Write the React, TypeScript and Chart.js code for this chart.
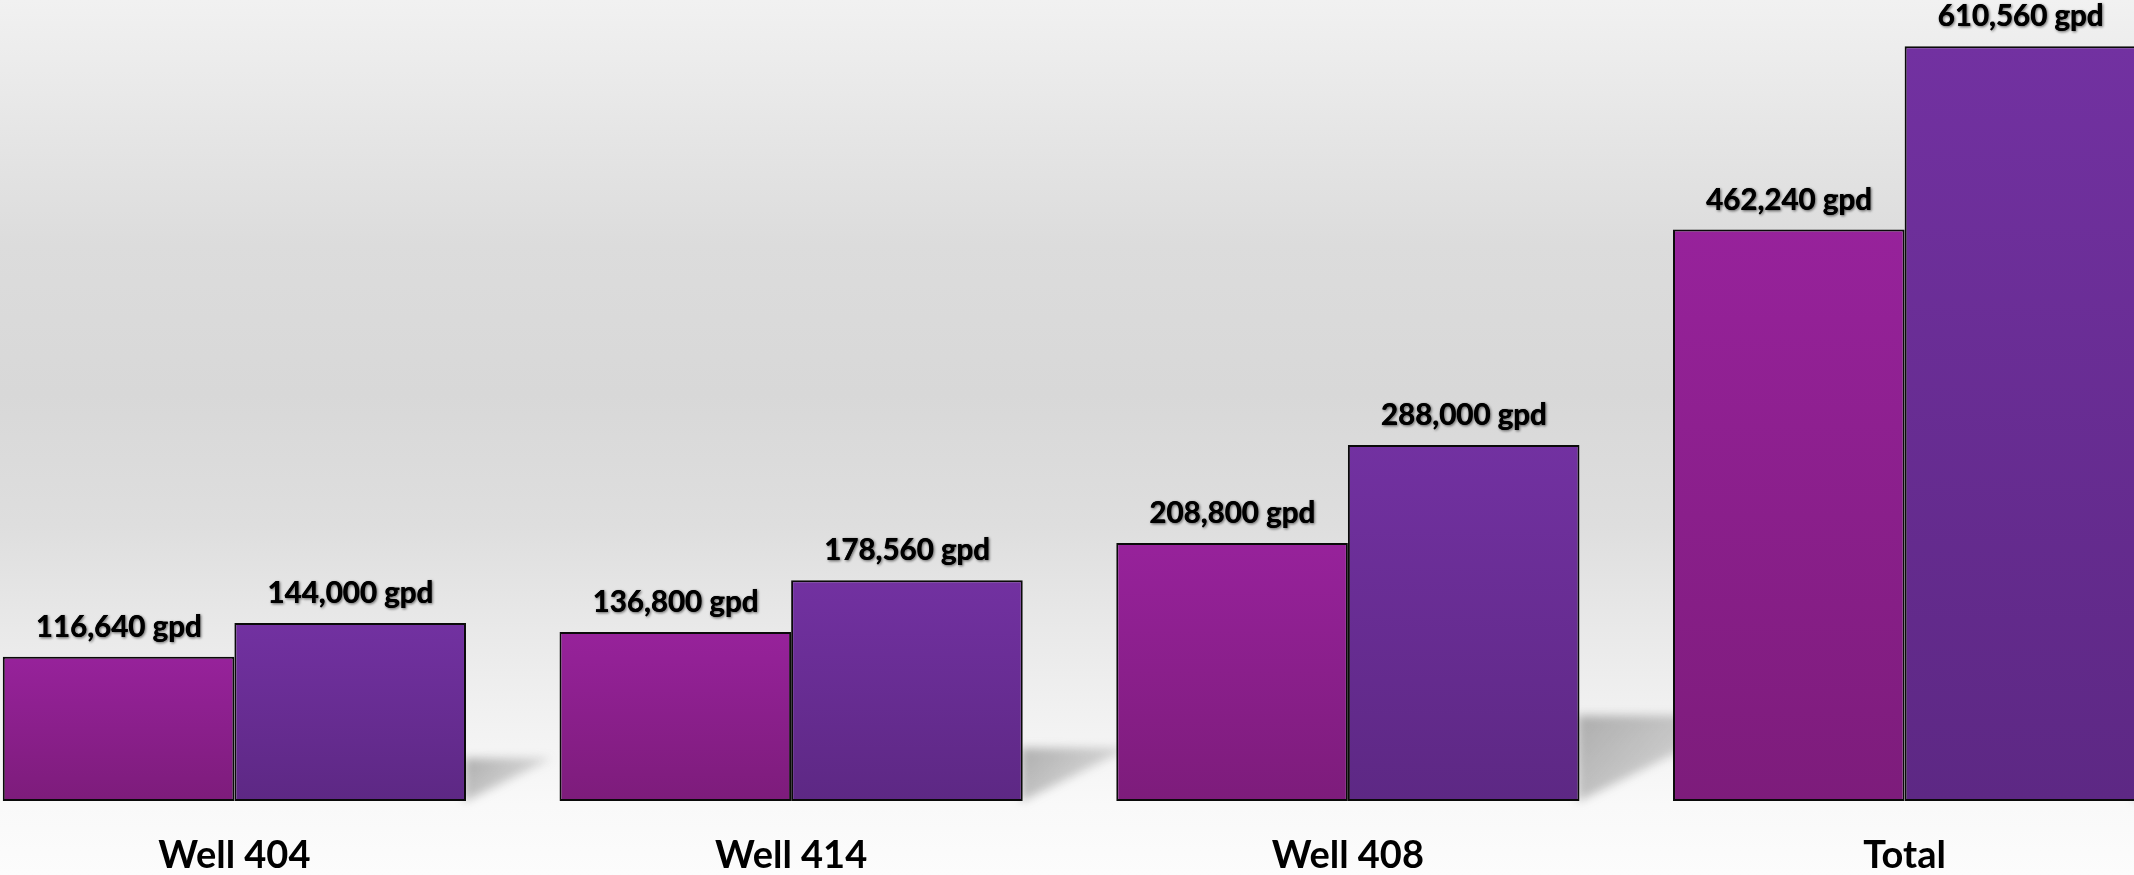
import React, { useEffect, useRef } from "react";
import { Chart, registerables } from "chart.js";

Chart.register(...registerables);

const categories = ["Well 404", "Well 414", "Well 408", "Total"];
const seriesA = [116640, 136800, 208800, 462240];
const seriesB = [144000, 178560, 288000, 610560];
const yMax = 648000;

const fmt = (v: number) => v.toLocaleString("en-US") + " gpd";

function barGradient(ctx: any, top: string, bottom: string) {
  const chart = ctx.chart;
  if (!chart.chartArea || !chart.scales || !chart.scales.y) return top;
  const ys = chart.scales.y;
  const v = ctx.raw as number;
  const y0 = ys.getPixelForValue(v);
  const y1 = ys.getPixelForValue(0);
  if (!isFinite(y0) || !isFinite(y1) || y0 === y1) return top;
  const g = chart.ctx.createLinearGradient(0, y0, 0, y1);
  g.addColorStop(0, top);
  g.addColorStop(1, bottom);
  return g;
}

const shadowPlugin = {
  id: "groupShadow",
  beforeDatasetsDraw(chart: any) {
    const meta = chart.getDatasetMeta(chart.data.datasets.length - 1);
    const ctx = chart.ctx;
    ctx.save();
    meta.data.forEach((bar: any) => {
      const right = bar.x + bar.width / 2;
      const bottom = bar.base;
      const h = 0.24 * (bar.base - bar.y);
      const w = h / 0.5;
      ctx.save();
      ctx.filter = "blur(5px)";
      const g = ctx.createLinearGradient(right, bottom - h, right + w * 0.6, bottom);
      g.addColorStop(0, "rgba(90,90,90,0.45)");
      g.addColorStop(1, "rgba(90,90,90,0.2)");
      ctx.fillStyle = g;
      ctx.beginPath();
      ctx.moveTo(right - 2, bottom - h);
      ctx.lineTo(right + w, bottom - h);
      ctx.lineTo(right - 2, bottom + 1);
      ctx.closePath();
      ctx.fill();
      ctx.restore();
    });
    ctx.restore();
  },
};

const labelPlugin = {
  id: "valueLabels",
  afterDatasetsDraw(chart: any) {
    const ctx = chart.ctx;
    ctx.save();
    ctx.font = "bold 29.5px Lato";
    ctx.textAlign = "center";
    ctx.textBaseline = "alphabetic";
    ctx.fillStyle = "#000000";
    ctx.shadowColor = "rgba(0,0,0,0.35)";
    ctx.shadowBlur = 3;
    ctx.shadowOffsetX = 1;
    ctx.shadowOffsetY = 1;
    chart.data.datasets.forEach((ds: any, di: number) => {
      const meta = chart.getDatasetMeta(di);
      meta.data.forEach((bar: any, i: number) => {
        ctx.fillText(fmt(ds.data[i]), bar.x, bar.y - 20);
        ctx.fillText(fmt(ds.data[i]), bar.x + 0.4, bar.y - 20);
      });
    });
    ctx.restore();
  },
};

export default function App() {
  const canvasRef = useRef<HTMLCanvasElement | null>(null);

  useEffect(() => {
    if (!canvasRef.current) return;
    const chart = new Chart(canvasRef.current, {
      type: "bar",
      data: {
        labels: categories,
        datasets: [
          {
            label: "A",
            data: seriesA,
            backgroundColor: (c: any) => barGradient(c, "#97229b", "#7d1c7b"),
            borderColor: "#0a0a0a",
            borderWidth: 2,
            borderSkipped: false,
            categoryPercentage: 0.832,
            barPercentage: 1.0,
          },
          {
            label: "B",
            data: seriesB,
            backgroundColor: (c: any) => barGradient(c, "#7231a1", "#5d2884"),
            borderColor: "#0a0a0a",
            borderWidth: 2,
            borderSkipped: false,
            categoryPercentage: 0.832,
            barPercentage: 1.0,
          },
        ],
      },
      options: {
        animation: false,
        responsive: true,
        maintainAspectRatio: false,
        layout: { padding: 0 },
        plugins: {
          legend: { display: false },
          tooltip: { enabled: false },
        },
        scales: {
          x: {
            grid: { display: false, drawTicks: false },
            border: { display: false },
            ticks: {
              color: "#000000",
              font: { family: "Lato", weight: "bold", size: 38 },
              padding: 32,
            },
            afterFit: (scale: any) => {
              scale.height = 74;
            },
          },
          y: {
            display: false,
            min: 0,
            max: yMax,
          },
        },
      },
      plugins: [shadowPlugin, labelPlugin],
    });
    return () => chart.destroy();
  }, []);

  return (
    <div
      style={{
        position: "absolute",
        left: 0,
        top: 0,
        width: 2134,
        height: 875,
        overflow: "hidden",
        background:
          "linear-gradient(to bottom, #f1f1f1 0%, #e8e8e8 12%, #dcdcdc 28%, #d8d8d8 45%, #dedede 60%, #e9e9e9 72%, #f3f3f3 84%, #f9f9f9 92%, #fcfcfc 100%)",
      }}
    >
      <div style={{ position: "absolute", left: -44, top: 0, width: 2227, height: 875 }}>
        <canvas ref={canvasRef} />
      </div>
    </div>
  );
}
